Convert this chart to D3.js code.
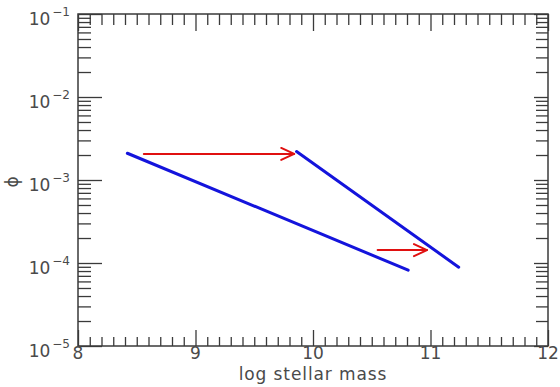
<!DOCTYPE html>
<html>
<head>
<meta charset="utf-8">
<script src="https://cdn.jsdelivr.net/npm/d3@7"></script>
<style>
  html, body { margin: 0; padding: 0; background: #fff; }
  svg { display: block; }
</style>
</head>
<body>
<svg id="chart" width="560" height="387"></svg>
<script>
// Mass function shift: two power-law segments and the arrows linking them
const xTickValues = [8, 9, 10, 11, 12];
const yExponents = [-1, -2, -3, -4, -5];

const lowerMass = [8.42, 10.81];
const lowerPhi = [2.1e-3, 8.2e-5];

const upperMass = [9.86, 11.24];
const upperPhi = [2.2e-3, 8.9e-5];

const arrowFrom = [8.56, 10.55];
const arrowTo = [9.84, 10.97];
const arrowPhi = [2.06e-3, 1.43e-4];

const svg = d3.select("#chart");
const plot = { left: 78, right: 548, top: 14, bottom: 346 };
const axisColor = "#3a3a3a";
const textColor = "#4a4a4a";
const font = "DejaVu Sans, sans-serif";

const x = d3.scaleLinear().domain([8, 12]).range([plot.left, plot.right]);
const y = d3.scaleLog().domain([1e-5, 1e-1]).range([plot.bottom, plot.top]);

// minor ticks
const xMinor = d3.range(80, 121).map(v => v / 10).filter(v => !xTickValues.includes(v));
const yMajor = yExponents.map(e => Math.pow(10, e));
const yMinor = [];
for (let e = -5; e < -1; e++) for (let m = 2; m <= 9; m++) yMinor.push(m * Math.pow(10, e));

function styleAxis(g) {
  g.select(".domain").remove();
  g.selectAll("text").remove();
  g.selectAll("line").attr("stroke", axisColor).attr("stroke-width", 1.3);
}

function addAxis(axis, tx, ty) {
  svg.append("g").attr("transform", `translate(${tx},${ty})`).call(axis).call(styleAxis);
}

// bottom axis (ticks pointing inward)
addAxis(d3.axisBottom(x).tickValues(xTickValues).tickSize(-16), 0, plot.bottom);
addAxis(d3.axisBottom(x).tickValues(xMinor).tickSize(-9), 0, plot.bottom);
// top axis
addAxis(d3.axisTop(x).tickValues(xTickValues).tickSize(-17), 0, plot.top);
addAxis(d3.axisTop(x).tickValues(xMinor).tickSize(-11), 0, plot.top);
// left axis
addAxis(d3.axisLeft(y).tickValues(yMajor).tickSize(-24), plot.left, 0);
addAxis(d3.axisLeft(y).tickValues(yMinor).tickSize(-13), plot.left, 0);
// right axis
addAxis(d3.axisRight(y).tickValues(yMajor).tickSize(-14), plot.right, 0);
addAxis(d3.axisRight(y).tickValues(yMinor).tickSize(-12), plot.right, 0);

// frame
svg.append("rect")
  .attr("x", plot.left).attr("y", plot.top)
  .attr("width", plot.right - plot.left).attr("height", plot.bottom - plot.top)
  .attr("fill", "none").attr("stroke", axisColor).attr("stroke-width", 1.5);

// x tick labels
svg.append("g").selectAll("text").data(xTickValues).join("text")
  .attr("x", d => x(d)).attr("y", plot.bottom + 13)
  .attr("text-anchor", "middle")
  .attr("font-family", font).attr("font-size", 17).attr("fill", textColor)
  .text(d => d);

// y tick labels: 10 with superscript exponent
const yl = svg.append("g").selectAll("text").data(yExponents).join("text")
  .attr("x", plot.left - 8).attr("y", d => y(Math.pow(10, d)) + 11)
  .attr("text-anchor", "end")
  .attr("font-family", font).attr("fill", textColor);
yl.append("tspan").attr("font-size", 17).text("10");
yl.append("tspan").attr("font-size", 12).attr("dx", 2).attr("dy", -9).text(d => "\u2212" + (-d));

// axis titles
svg.append("text")
  .attr("x", (plot.left + plot.right) / 2).attr("y", plot.bottom + 34)
  .attr("text-anchor", "middle")
  .attr("font-family", font).attr("font-size", 17).attr("letter-spacing", 0.9)
  .attr("fill", textColor)
  .text("log stellar mass");

svg.append("text")
  .attr("transform", `translate(18,${y(1e-3) + 2}) rotate(-90)`)
  .attr("text-anchor", "middle")
  .attr("font-family", font).attr("font-size", 17).attr("fill", textColor)
  .text("\u03d5");

// power-law segments
const line = d3.line().x(d => x(d[0])).y(d => y(d[1]));
const segments = [d3.zip(lowerMass, lowerPhi), d3.zip(upperMass, upperPhi)];
svg.append("g").selectAll("path").data(segments).join("path")
  .attr("d", line)
  .attr("fill", "none").attr("stroke", "#1414dc")
  .attr("stroke-width", 3).attr("stroke-linecap", "round");

// arrows
const arrows = d3.range(arrowFrom.length).map(i => ({ x0: arrowFrom[i], x1: arrowTo[i], p: arrowPhi[i] }));
const ag = svg.append("g").attr("stroke", "#e01010").attr("stroke-width", 2).attr("fill", "none")
  .attr("stroke-linecap", "round").attr("stroke-linejoin", "round");
ag.selectAll("line").data(arrows).join("line")
  .attr("x1", d => x(d.x0)).attr("x2", d => x(d.x1))
  .attr("y1", d => y(d.p)).attr("y2", d => y(d.p));
ag.selectAll("path").data(arrows).join("path")
  .attr("d", d => {
    const tx = x(d.x1), ty = y(d.p);
    return `M${tx - 13},${ty - 6}L${tx},${ty}L${tx - 13},${ty + 6}`;
  });
</script>
</body>
</html>
